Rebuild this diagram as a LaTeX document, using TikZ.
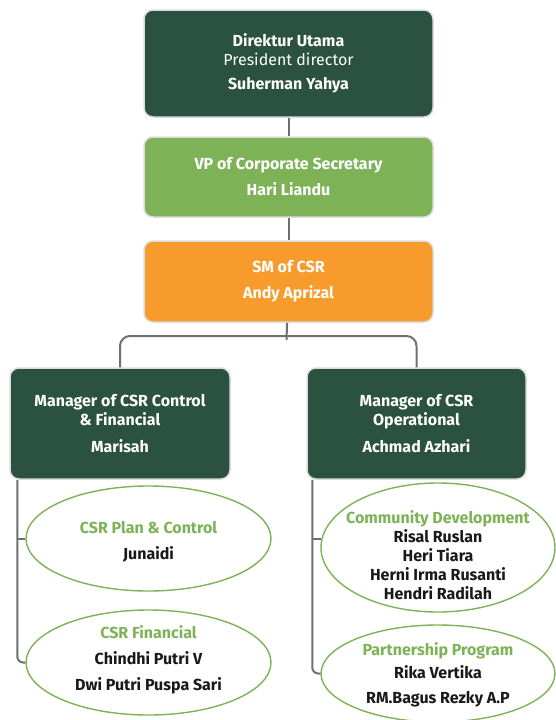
\documentclass[tikz,border=0pt]{standalone}
\usepackage{fontspec}
\setmainfont{Fira Sans}
\usetikzlibrary{shapes.geometric}
\definecolor{darkgreen}{HTML}{2B5240}
\definecolor{leafgreen}{HTML}{7DB356}
\definecolor{csrorange}{HTML}{F89B2D}
\definecolor{boxline}{HTML}{DCDCDC}
\definecolor{connline}{HTML}{6E6F72}
\def\ttl#1{{\color{leafgreen}#1}\\}
\begin{document}
\begin{tikzpicture}[x=1pt,y=-1pt,
    box/.style={draw=boxline, line width=1.5pt, rounded corners=9pt, text=white, align=center,
      font=\bfseries\fontsize{16}{19}\selectfont},
    unit/.style={ellipse, draw=leafgreen, line width=1.4pt, fill=white, text=black!90, align=center,
      inner sep=-30pt, font=\bfseries\fontsize{16}{19}\selectfont},
    conn/.style={draw=connline, line width=2pt}]
  \useasboundingbox (0,0) rectangle (556,720);
  % top chain
  \node[box, fill=darkgreen, minimum width=289pt, minimum height=107pt] (dirut) at (288.5,63.5)
    {Direktur Utama\\ {\mdseries President director}\\[5pt] Suherman Yahya};
  \node[box, fill=leafgreen, minimum width=289pt, minimum height=80pt] (vp) at (288.5,177)
    {VP of Corporate Secretary\\[7pt] Hari Liandu};
  \node[box, fill=csrorange, minimum width=289pt, minimum height=81pt] (sm) at (288.5,281.5)
    {SM of CSR\\[7pt] Andy Aprizal};
  \draw[conn] (dirut) -- (vp) (vp) -- (sm);
  % managers
  \node[box, fill=darkgreen, minimum width=220pt, minimum height=111pt] (mgrL) at (120,423.5)
    {Manager of CSR Control\\ \& Financial\\[8pt] Marisah};
  \node[box, fill=darkgreen, minimum width=219pt, minimum height=111pt] (mgrR) at (416.5,423.5)
    {Manager of CSR\\ Operational\\[8pt] Achmad Azhari};
  \coordinate (split) at (286.5,336);
  \coordinate (tick) at (286.5,340);
  \draw[conn] (sm) -- (tick);
  \draw[conn, rounded corners=10pt] (mgrL.north) |- (split) -| (mgrR.north);
  % units
  \node[unit, minimum width=245pt, minimum height=105pt] (plan) at (148.5,538.5)
    {\ttl{\rule{0pt}{19pt}CSR Plan \& Control}[7pt] Junaidi};
  \node[unit, minimum width=245pt, minimum height=105pt] (fin) at (148.5,662.5)
    {\ttl{CSR Financial}[7pt] Chindhi Putri V\\[7pt] Dwi Putri Puspa Sari\rule[-9pt]{0pt}{1pt}};
  \node[unit, minimum width=234pt, minimum height=129pt] (comm) at (438,547.5)
    {\ttl{\rule{0pt}{29pt}Community Development} Risal Ruslan\\ Heri Tiara\\ Herni Irma Rusanti\\ Hendri Radilah};
  \node[unit, minimum width=234pt, minimum height=97pt] (part) at (438,673.5)
    {\ttl{\rule{0pt}{16pt}Partnership Program}[4pt] Rika Vertika\\[6pt] RM.Bagus Rezky A.P};
  \coordinate (spineL) at ([xshift=8pt]mgrL.south west);
  \coordinate (spineR) at ([xshift=6pt]mgrR.south west);
  \draw[conn, rounded corners=6pt] (spineL) |- (fin.west);
  \draw[conn] (spineL |- plan.west) -- (plan.west);
  \draw[conn, rounded corners=6pt] (spineR) |- (part.west);
  \draw[conn] (spineR |- comm.176) -- (comm.176);
\end{tikzpicture}
\end{document}
